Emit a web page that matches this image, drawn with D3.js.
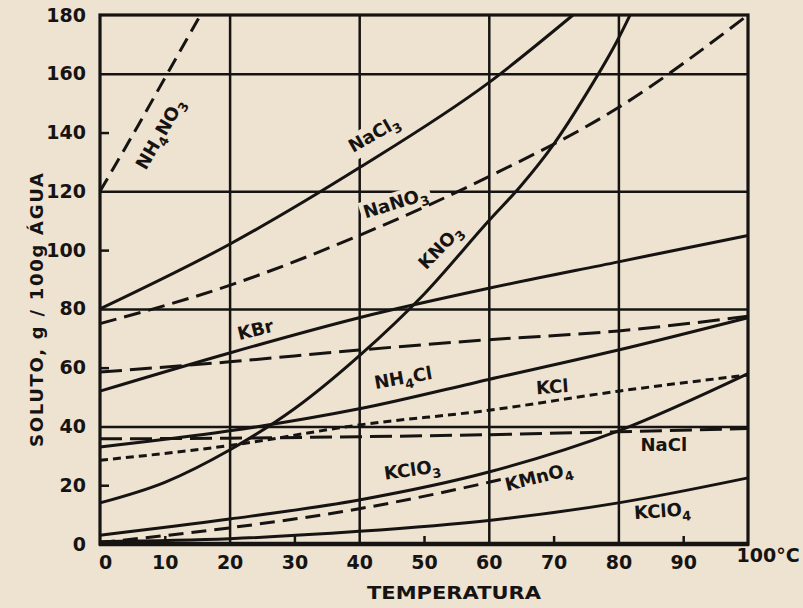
<!DOCTYPE html>
<html><head><meta charset="utf-8">
<script src="https://cdn.jsdelivr.net/npm/d3@7"></script>
<style>
html,body{margin:0;padding:0;background:#eee2d1;}
svg{display:block;}
text{font-family:"DejaVu Sans",sans-serif;font-weight:bold;fill:#161412;}
</style></head><body>
<svg id="chart" width="803" height="608"></svg>
<script>
// ---- axis ticks ----
const xTickLabels = [0,10,20,30,40,50,60,70,80,90,100];
const yTickLabels = [0,20,40,60,80,100,120,140,160,180];
const xGrid = [20,40,60,80];
const yGrid = [40,80,120,160];
const xMinor = [10,30,50,70,90];
const yMinor = [20,60,100,140];

// ---- series: [temperature °C, g soluto / 100 g água] ----
const nh4no3 = [[0,120],[5,139],[10,158.5],[15.5,180]];
const naclo3 = [[0,80],[20,102],[40,128],[60,157],[73,180]];
const nano3  = [[0,75],[20,88],[40,105],[60,125],[80,148.5],[100,180]];
const kno3   = [[0,14],[10,21],[20,32],[30,46],[40,64],[50,85],[60,110],[65,122],[70,136],[75,153],[80,172],[81.8,180]];
const kbr    = [[0,52],[20,65],[40,77],[60,87],[80,96],[100,105]];
const dashed58 = [[0,58.5],[20,62],[40,66],[60,69.5],[80,72.5],[100,77.5]];
const nh4cl  = [[0,33],[20,38.5],[40,46],[60,56],[80,66],[100,77]];
const kcl    = [[0,28.5],[20,33.5],[40,40.5],[60,45.5],[80,52],[100,57.5]];
const nacl   = [[0,35.8],[20,36],[40,36.5],[60,37.2],[80,38.2],[100,39.3]];
const kclo3  = [[0,3],[20,8.5],[40,15],[60,24.5],[80,38.5],[100,58]];
const kmno4  = [[0,0.5],[20,5.5],[40,12],[60,21],[62,22]];
const kclo4  = [[0,0.8],[20,1.8],[40,4.3],[60,8],[80,14],[100,22.5]];

const seriesList = [
  {name:"NH4NO3", data:nh4no3, dash:"15,8"},
  {name:"NaClO3", data:naclo3, dash:null},
  {name:"NaNO3",  data:nano3,  dash:"17,8"},
  {name:"KNO3",   data:kno3,   dash:null},
  {name:"KBr",    data:kbr,    dash:null},
  {name:"",       data:dashed58, dash:"22,8"},
  {name:"NH4Cl",  data:nh4cl,  dash:null},
  {name:"KCl",    data:kcl,    dash:"8,5"},
  {name:"NaCl",   data:nacl,   dash:"22,8"},
  {name:"KClO3",  data:kclo3,  dash:null},
  {name:"KMnO4",  data:kmno4,  dash:"15,8"},
  {name:"KClO4",  data:kclo4,  dash:null}
];

// ---- curve labels: text, anchor (temperature, value), angle ----
const labelTexts  = ["NH4NO3","NaCl3","NaNO3","KNO3","KBr","NH4Cl","KCl","NaCl","KClO3","KMnO4","KClO4"];
const labelT      = [9.3, 42.3, 45.6, 52.5, 24, 46.8, 69.8, 87, 48.2, 67.7, 86.8];
const labelV      = [139.5, 139.5, 116, 101, 72.8, 56.5, 53.4, 33.7, 25.2, 22.8, 11.2];
const labelAngle  = [-60, -30, -17, -46, -14, -10, -4, 0, -8, -14, -4];
const labelMask   = [false, true, true, false, false, false, false, false, false, false, false];

const ink = "#161412", bg = "#eee2d1";
const svg = d3.select("#chart");
svg.append("rect").attr("width",803).attr("height",608).attr("fill",bg);

const x = d3.scaleLinear().domain([0,100]).range([100,748]);
const y = d3.scaleLinear().domain([0,180]).range([544,15]);
const H = y(0)-y(180), W = x(100)-x(0);

function styleAxis(g, w){
  g.select(".domain").remove();
  g.selectAll("line").attr("stroke",ink).attr("stroke-width",w);
}
// grid
svg.append("g").attr("transform",`translate(0,${y(0)})`)
  .call(d3.axisBottom(x).tickValues(xGrid).tickSize(-H).tickFormat(""))
  .call(g=>styleAxis(g,2.5));
svg.append("g").attr("transform",`translate(${x(0)},0)`)
  .call(d3.axisLeft(y).tickValues(yGrid).tickSize(-W).tickFormat(""))
  .call(g=>styleAxis(g,2.5));
// minor ticks (inward)
svg.append("g").attr("transform",`translate(${x(0)},0)`)
  .call(d3.axisLeft(y).tickValues(yMinor).tickSize(-9).tickFormat(""))
  .call(g=>styleAxis(g,2.5));
svg.append("g").attr("transform",`translate(0,${y(0)})`)
  .call(d3.axisBottom(x).tickValues(xMinor).tickSize(-8).tickFormat(""))
  .call(g=>styleAxis(g,2.5));

// label masks layer, curves layer, labels layer
const maskLayer = svg.append("g");
const curveLayer = svg.append("g");
const labelLayer = svg.append("g");

const line = d3.line().x(d=>x(d[0])).y(d=>y(d[1])).curve(d3.curveMonotoneX);
curveLayer.selectAll("path").data(seriesList).join("path")
  .attr("d",d=>line(d.data))
  .attr("fill","none").attr("stroke",ink).attr("stroke-width",3)
  .attr("stroke-dasharray",d=>d.dash);

// frame
svg.append("rect").attr("x",x(0)).attr("y",y(180)).attr("width",W).attr("height",H)
  .attr("fill","none").attr("stroke",ink).attr("stroke-width",3.2);
svg.append("line").attr("x1",x(0)-1).attr("x2",x(100)+1).attr("y1",y(0)).attr("y2",y(0))
  .attr("stroke",ink).attr("stroke-width",4.5);

// chemical label with subscript digits
function addFormula(textSel, str, size){
  const parts = str.match(/[A-Za-z]+|\d+/g);
  let sub = false;
  parts.forEach(p=>{
    const isSub = /\d/.test(p);
    const t = textSel.append("tspan").text(p);
    if(isSub){ t.attr("font-size",size*0.72).attr("dy", sub?0:5); sub = true; }
    else { t.attr("dy", sub?-5:0); sub = false; }
  });
}
labelTexts.forEach((s,i)=>{
  const g = labelLayer.append("g")
    .attr("transform",`translate(${x(labelT[i])},${y(labelV[i])}) rotate(${labelAngle[i]})`);
  const t = g.append("text").attr("text-anchor","middle").attr("y",6).attr("font-size",18);
  addFormula(t, s, 18);
  if(labelMask[i]){
    const b = t.node().getBBox();
    maskLayer.append("rect")
      .attr("transform",`translate(${x(labelT[i])},${y(labelV[i])}) rotate(${labelAngle[i]})`)
      .attr("x",b.x-3).attr("y",b.y).attr("width",b.width+6).attr("height",b.height)
      .attr("fill",bg);
  }
});

// tick labels
svg.append("g").attr("transform",`translate(${x(0)},0)`)
  .call(d3.axisLeft(y).tickValues(yTickLabels).tickSize(0).tickPadding(14))
  .call(g=>{g.select(".domain").remove();
    g.selectAll("text").attr("font-size",19).attr("fill",ink)
      .style("font-family",'"DejaVu Sans",sans-serif').style("font-weight","bold");});
svg.append("g").attr("transform",`translate(0,${y(0)})`)
  .call(d3.axisBottom(x).tickValues(xTickLabels).tickSize(0).tickPadding(12)
        .tickFormat(d=>d===100?"100°C":d))
  .call(g=>{g.select(".domain").remove();
    g.selectAll("text").attr("font-size",19).attr("fill",ink)
      .style("font-family",'"DejaVu Sans",sans-serif').style("font-weight","bold");
    g.selectAll("text").filter(d=>d===100).attr("text-anchor","start").attr("x",-12).attr("y",5);
    g.selectAll("text").filter(d=>d===0).attr("x",5);});

// axis titles
svg.append("text").attr("x",454).attr("y",599).attr("text-anchor","middle")
  .attr("font-size",18).attr("textLength",174).attr("lengthAdjust","spacingAndGlyphs")
  .text("TEMPERATURA");
svg.append("text").attr("transform","translate(43,310) rotate(-90)").attr("text-anchor","middle")
  .attr("font-size",18).attr("textLength",274).attr("lengthAdjust","spacing")
  .text("SOLUTO, g / 100g ÁGUA");
</script></body></html>
